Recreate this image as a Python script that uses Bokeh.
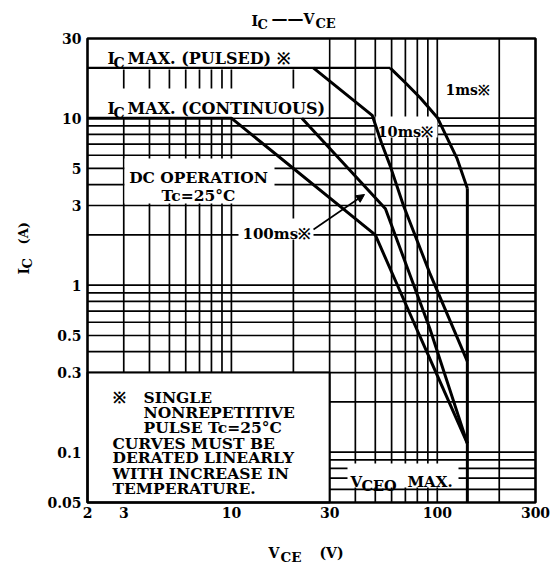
import math
from bokeh.plotting import figure
from bokeh.models import Label, Arrow, NormalHead, Range1d
from bokeh.core.properties import value
from bokeh.embed import file_html
from bokeh.resources import INLINE

# ---------------- data ----------------
x_ticks = [2, 3, 10, 30, 100, 300]
x_tick_labels = ["2", "3", "10", "30", "100", "300"]
y_ticks = [0.05, 0.1, 0.3, 0.5, 1, 3, 5, 10, 30]
y_tick_labels = ["0.05", "0.1", "0.3", "0.5", "1", "3", "5", "10", "30"]
x_grid = [3, 4, 5, 6, 7, 8, 9, 10, 20, 30, 40, 50, 60, 70, 80, 90, 100, 200]
y_grid = [0.06, 0.07, 0.08, 0.09, 0.1, 0.2, 0.3, 0.4, 0.5, 0.6, 0.7, 0.8, 0.9,
          1, 2, 3, 4, 5, 6, 7, 8, 9, 10]

pulsed_v = [2, 59]
pulsed_i = [20, 20]
dc_v = [2, 10, 50, 82, 140]
dc_i = [10, 10, 2, 0.5, 0.113]
ms100_v = [22, 56, 92, 140]
ms100_i = [10, 2.87, 0.55, 0.113]
ms10_v = [25, 48.3, 53.5, 59, 68.5, 92.5, 140]
ms10_i = [20, 10.4, 7.16, 5.2, 3.0, 1.16, 0.35]
ms1_v = [59, 70, 82.8, 100, 125, 140]
ms1_i = [20, 16.3, 13.2, 10.1, 5.7, 3.8]
vceo_v = [140, 140]
vceo_i = [3.8, 0.05]

# ---------------- layout constants ----------------
W, H = 552, 564
FL, FT, FW, FH = 87, 38, 448, 464   # plot area on the canvas (px)
XMIN, XMAX, YMIN, YMAX = 2, 300, 0.05, 30
FONT = "DejaVu Serif"


def dx(px):
    return XMIN * 10 ** ((px - FL) / FW * math.log10(XMAX / XMIN))


def dy(py):
    return YMAX * 10 ** (-(py - FT) / FH * math.log10(YMAX / YMIN))


p = figure(width=W, height=H, x_axis_type="log", y_axis_type="log",
           x_range=Range1d(dx(0), dx(W)), y_range=Range1d(dy(H), dy(0)),
           x_axis_location=None, y_axis_location=None, title=None,
           min_border=0, output_backend="svg", toolbar_location=None)
p.background_fill_color = "white"
p.border_fill_color = "white"
p.outline_line_color = None
p.grid.visible = False

GLW = 1.7
# grid lines inside the plot area
p.segment(x0=x_grid, y0=[YMIN] * len(x_grid), x1=x_grid, y1=[YMAX] * len(x_grid),
          line_color="black", line_width=GLW)
p.segment(x0=[XMIN] * len(y_grid), y0=y_grid, x1=[XMAX] * len(y_grid), y1=y_grid,
          line_color="black", line_width=GLW)

# white panels that hide the grid behind texts
boxes = [
    (XMIN, dx(328), dy(69), YMAX),          # pulsed band
    (dx(98), dx(326), dy(117), dy(88)),      # continuous label
    (dx(124), dx(274), dy(203), dy(158)),    # DC operation
    (dx(238), dx(313), dy(239), dy(218)),    # 100ms
    (dx(375), dx(437), dy(137), dy(116)),    # 10ms
    (dx(440), dx(496), dy(94), dy(77)),      # 1ms
    (dx(347), dx(458), dy(487), dy(463)),    # VCEO max
]
p.quad(left=[b[0] for b in boxes], right=[b[1] for b in boxes],
       bottom=[b[2] for b in boxes], top=[b[3] for b in boxes],
       fill_color="white", line_color=None)
# note box
p.quad(left=[XMIN], right=[30], bottom=[YMIN], top=[0.3],
       fill_color="white", line_color="black", line_width=2)

# curves
LW = 3
p.line(pulsed_v, pulsed_i, line_color="black", line_width=2.4)
p.line(dc_v, dc_i, line_color="black", line_width=LW)
p.line(ms100_v, ms100_i, line_color="black", line_width=LW)
p.line(ms10_v, ms10_i, line_color="black", line_width=LW)
p.line(ms1_v, ms1_i, line_color="black", line_width=LW)
p.line(vceo_v, vceo_i, line_color="black", line_width=LW)

# plot-area border
p.quad(left=[XMIN], right=[XMAX], bottom=[YMIN], top=[YMAX],
       fill_alpha=0, line_color="black", line_width=2.6)

p.add_layout(Arrow(end=NormalHead(size=8, fill_color="black", line_color="black"),
                   x_start=dx(313), y_start=dy(229), x_end=dx(364), y_end=dy(194),
                   line_color="black", line_width=1.6))

# tick labels (placed through the log scales)
p.text(x=x_ticks, y=[dy(512)] * len(x_ticks), text=x_tick_labels,
       text_font=value(FONT), text_font_style="bold", text_font_size="14px",
       text_align="center", text_baseline="middle", text_color="black")
p.text(x=[dx(81)] * len(y_ticks), y=y_ticks, text=y_tick_labels,
       text_font=value(FONT), text_font_style="bold", text_font_size="14px",
       text_align="right", text_baseline="middle", text_color="black")


def lab(text, px, py, size=15.5, align="left", angle=0.0):
    p.add_layout(Label(x=px, y=H - py, x_units="screen", y_units="screen",
                       text=text, text_font=FONT, text_font_style="bold",
                       text_font_size=f"{size}px", text_align=align,
                       text_baseline="alphabetic", angle=angle,
                       text_color="black"))


# title
lab("I", 251, 20, 14)
lab("C", 257, 24, 13)
lab("——", 271, 19, 16)
lab("V", 303, 18, 14)
lab("CE", 315, 23, 13)

# x axis title
lab("V", 268, 552, 14)
lab("CE", 280, 556, 13.5)
lab("(V)", 319, 552, 14)

# y axis title (rotated)
lab("I", 23, 274, 14, angle=math.pi / 2)
lab("C", 27, 268, 13, angle=math.pi / 2)
lab("(A)", 23, 244, 13, angle=math.pi / 2)

# in-plot labels
lab("I", 107, 58, 16)
lab("C", 113, 62, 14)
lab("MAX. (PULSED) ※", 127, 58, 16)

lab("I", 107, 108, 16)
lab("C", 113, 112, 14)
lab("MAX. (CONTINUOUS)", 127, 108, 16)

lab("DC OPERATION", 198, 177, 15.5, align="center")
lab("Tc=25°C", 198, 195, 15.5, align="center")
lab("100ms※", 242, 233, 15)
lab("10ms※", 377, 131, 14.5)
lab("1ms※", 445, 89, 14)

lab("V", 350, 481, 15)
lab("CEO", 361, 485, 14.5)
lab("MAX.", 407, 481, 15)

note_lines = [
    ("※", 112, 397), ("SINGLE", 143, 397), ("NONREPETITIVE", 143, 412),
    ("PULSE Tc=25°C", 143, 427), ("CURVES MUST BE", 112, 443),
    ("DERATED LINEARLY", 112, 457), ("WITH INCREASE IN", 112, 473),
    ("TEMPERATURE.", 112, 488),
]
for t, px, py in note_lines:
    lab(t, px, py, 15.5)

open("out.html", "w").write(file_html(p, INLINE))
